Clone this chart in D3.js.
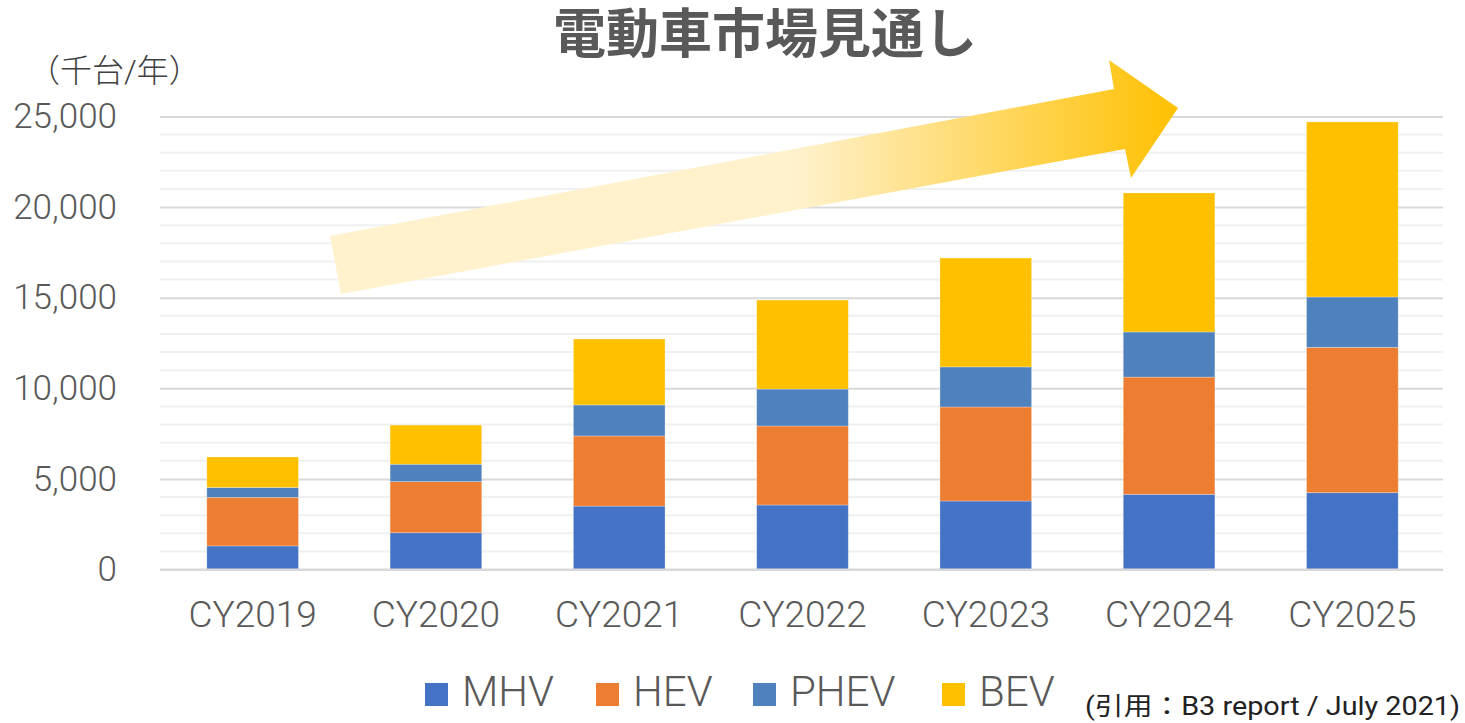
<!DOCTYPE html>
<html>
<head>
<meta charset="utf-8">
<script src="https://cdn.jsdelivr.net/npm/d3@7"></script>
<style>
  body { margin: 0; background: #fff; }
  text { font-family: Roboto, "Noto Sans CJK JP", sans-serif; }
</style>
</head>
<body>
<div id="chart"></div>
<script>
// data (千台/年)
const years = ["CY2019", "CY2020", "CY2021", "CY2022", "CY2023", "CY2024", "CY2025"];
const seriesNames = ["MHV", "HEV", "PHEV", "BEV"];
const mhv  = [1300, 2030, 3500, 3560, 3780, 4150, 4240];
const hev  = [2680, 2820, 3870, 4360, 5190, 6470, 8020];
const phev = [550, 960, 1710, 2040, 2210, 2490, 2780];
const bev  = [1680, 2160, 3640, 4910, 6010, 7670, 9660];
const yTicks = [0, 5000, 10000, 15000, 20000, 25000];
const colors = ["#4472C4", "#ED7D31", "#4F81BD", "#FFC000"];

const W = 1465, H = 723;
const svg = d3.select("#chart").append("svg")
    .attr("width", W)
    .attr("height", H);

const x = d3.scaleBand()
    .domain(years)
    .range([161, 1444])
    .paddingInner(0.5)
    .paddingOuter(0.25);

const y = d3.scaleLinear()
    .domain([0, 25000])
    .range([569.5, 116.5]);

// gridlines: light every 1000, darker every 5000
const minor = d3.range(1000, 25001, 1000).filter(function(v){ return v % 5000 != 0; });
svg.append("g").selectAll("line")
    .data(minor)
    .enter()
    .append("line")
    .attr("x1", 160).attr("x2", 1443)
    .attr("y1", function(d){ return y(d); })
    .attr("y2", function(d){ return y(d); })
    .attr("stroke", "#f0f0f0")
    .attr("stroke-width", 2);

// y axis labels + major lines
const yAxis = svg.append("g")
    .attr("transform", "translate(160,0)")
    .call(d3.axisLeft(y).tickValues(yTicks).tickSize(-1283).tickPadding(43)
          .tickFormat(d3.format(",")));
yAxis.select(".domain").remove();
yAxis.selectAll(".tick line").attr("stroke", "#d9d9d9").attr("stroke-width", 2);
yAxis.selectAll(".tick text")
    .attr("fill", "#595959")
    .attr("font-size", "35px")
    .attr("font-weight", 300)
    .attr("font-family", "Roboto, sans-serif");

// arrow (behind bars)
const defs = svg.append("defs");
const grad = defs.append("linearGradient")
    .attr("id", "arrowGrad")
    .attr("gradientUnits", "userSpaceOnUse")
    .attr("x1", 330).attr("y1", 0).attr("x2", 1180).attr("y2", 0);
grad.append("stop").attr("offset", 0).attr("stop-color", "#FFF2CC");
grad.append("stop").attr("offset", 0.55).attr("stop-color", "#FFF1CC");
grad.append("stop").attr("offset", 1).attr("stop-color", "#FFC000");

svg.append("path")
    .attr("d", "M330,236 L1114,89 L1109,60 L1178,108 L1131,178 L1125,149 L341,294 Z")
    .attr("fill", "url(#arrowGrad)");

// stacked bars
const rows = years.map(function(yr, i){
    return { year: yr, MHV: mhv[i], HEV: hev[i], PHEV: phev[i], BEV: bev[i] };
});
const stacked = d3.stack().keys(seriesNames)(rows);

svg.append("g").selectAll("g")
    .data(stacked)
    .enter()
    .append("g")
    .attr("fill", function(d, i){ return colors[i]; })
    .selectAll("rect")
    .data(function(d){ return d; })
    .enter()
    .append("rect")
    .attr("x", function(d){ return x(d.data.year); })
    .attr("width", x.bandwidth())
    .attr("y", function(d){ return y(d[1]); })
    .attr("height", function(d){ return y(d[0]) - y(d[1]); })
    .attr("stroke", "rgba(255,255,255,0.35)")
    .attr("stroke-width", 0.8);

// x axis
const xAxis = svg.append("g")
    .attr("transform", "translate(0,569.5)")
    .call(d3.axisBottom(x).tickSize(0).tickPadding(31));
xAxis.select(".domain").attr("stroke", "#d9d9d9").attr("stroke-width", 2)
    .attr("d", "M160,0H1443");
xAxis.selectAll(".tick text")
    .attr("fill", "#595959")
    .attr("font-size", "37px")
    .attr("font-weight", 300)
    .attr("font-family", "Roboto, sans-serif");

// title
svg.append("text")
    .text("電動車市場見通し")
    .attr("x", 765).attr("y", 53)
    .attr("text-anchor", "middle")
    .attr("font-family", "'Noto Sans CJK JP', sans-serif")
    .attr("font-weight", "bold")
    .attr("font-size", "53px")
    .attr("fill", "#595959");

// unit label
svg.append("text")
    .text("（千台/年）")
    .attr("x", 28).attr("y", 82)
    .attr("font-family", "'Noto Sans CJK JP', sans-serif")
    .attr("font-weight", 300)
    .attr("font-size", "32px")
    .attr("fill", "#404040");

// legend
const legendX = [425, 596, 753, 942];
const legend = svg.append("g").selectAll("g")
    .data(seriesNames)
    .enter()
    .append("g")
    .attr("transform", function(d, i){ return "translate(" + legendX[i] + ",683)"; });
legend.append("rect")
    .attr("width", 23).attr("height", 23)
    .attr("fill", function(d, i){ return colors[i]; });
legend.append("text")
    .text(function(d){ return d; })
    .attr("x", 37).attr("y", 23)
    .attr("fill", "#595959")
    .attr("font-size", "42px")
    .attr("font-weight", 300)
    .attr("font-family", "Roboto, sans-serif");

// source
svg.append("text")
    .text("(引用：B3 report / July 2021)")
    .attr("x", 1085).attr("y", 715)
    .attr("textLength", 375)
    .attr("lengthAdjust", "spacingAndGlyphs")
    .attr("font-family", "'Noto Sans CJK JP', sans-serif")
    .attr("font-size", "25px")
    .attr("fill", "#222");
</script>
</body>
</html>
